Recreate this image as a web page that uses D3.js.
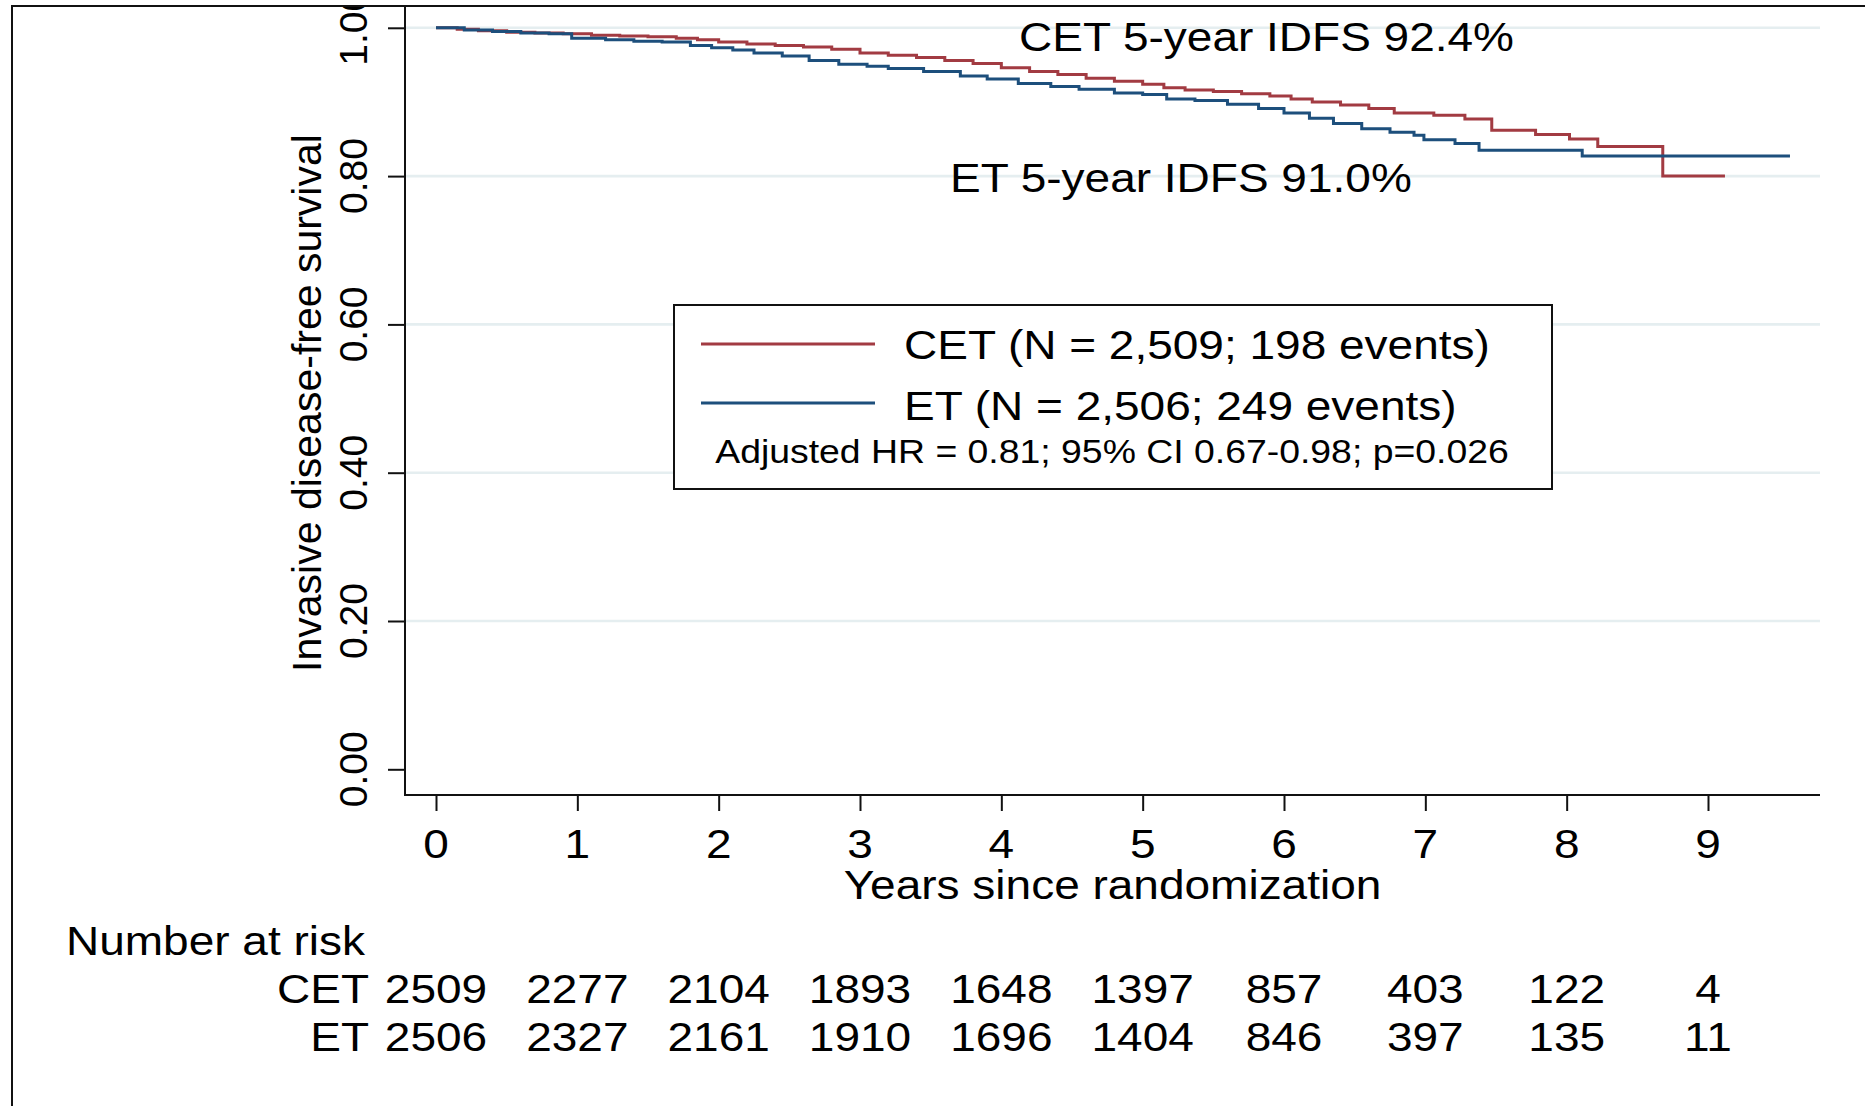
<!DOCTYPE html>
<html>
<head>
<meta charset="utf-8">
<script src="https://cdn.jsdelivr.net/npm/d3@7"></script>
<style>
html,body{margin:0;padding:0;background:#fff;}
svg{display:block;}
text{font-family:"Liberation Sans",Arial,Helvetica,sans-serif;fill:#000;}
</style>
</head>
<body>
<svg id="chart" width="1865" height="1106"></svg>
<script>
// ---- data ----
const xTicks = [0,1,2,3,4,5,6,7,8,9];
const yTicks = [0,0.2,0.4,0.6,0.8,1.0];
const yTickLabels = ["0.00","0.20","0.40","0.60","0.80","1.00"];
const groups = ["CET","ET"];
const cetTime = [0,0.15,0.3,0.5,0.7,0.9,1.1,1.3,1.5,1.7,1.85,2.0,2.2,2.4,2.6,2.8,3.0,3.2,3.4,3.6,3.8,4.0,4.2,4.4,4.6,4.8,5.0,5.15,5.3,5.5,5.7,5.9,6.05,6.2,6.4,6.6,6.78,7.06,7.28,7.47,7.78,8.02,8.22,8.68,9.12];
const cetSurv = [1.000,0.998,0.996,0.994,0.993,0.992,0.990,0.989,0.988,0.986,0.984,0.981,0.978,0.976,0.974,0.971,0.966,0.963,0.960,0.956,0.952,0.946,0.941,0.937,0.932,0.928,0.924,0.919,0.916,0.914,0.911,0.908,0.904,0.900,0.896,0.891,0.885,0.882,0.877,0.862,0.856,0.850,0.840,0.800,0.800];
const etTime = [0,0.2,0.4,0.6,0.8,0.96,1.2,1.4,1.6,1.8,1.95,2.1,2.25,2.45,2.64,2.85,3.05,3.2,3.45,3.71,3.9,4.12,4.35,4.55,4.8,5.0,5.17,5.37,5.6,5.82,6.0,6.18,6.35,6.55,6.75,6.92,6.99,7.21,7.38,8.11,9.58];
const etSurv = [1.000,0.997,0.995,0.993,0.992,0.986,0.984,0.982,0.981,0.976,0.973,0.970,0.966,0.962,0.956,0.951,0.948,0.945,0.941,0.935,0.931,0.925,0.921,0.917,0.912,0.910,0.904,0.902,0.897,0.891,0.885,0.878,0.871,0.864,0.859,0.855,0.849,0.844,0.835,0.827,0.827];
const cetRisk = [2509,2277,2104,1893,1648,1397,857,403,122,4];
const etRisk  = [2506,2327,2161,1910,1696,1404,846,397,135,11];
const legendLabels = ["CET (N = 2,509; 198 events)","ET (N = 2,506; 249 events)"];
const hrText = "Adjusted HR = 0.81; 95% CI 0.67-0.98; p=0.026";
const annCET = "CET 5-year IDFS 92.4%";
const annET = "ET 5-year IDFS 91.0%";
const xTitle = "Years since randomization";
const yTitle = "Invasive disease-free survival";

// ---- layout ----
const RED = "#a23b42", BLUE = "#1d4f7c";
const SX = 1.15; // horizontal stretch of the original image
const svg = d3.select("#chart");
const x = d3.scaleLinear().domain([0,9]).range([436,1708]);
const y = d3.scaleLinear().domain([0,1]).range([769.3,27.8]);
const axisX0 = 405, axisX1 = 1820, axisY = 795, plotTop = 6;

function htext(g, str, px, py, size, anchor){
  return g.append("text")
    .attr("transform", `translate(${px},${py}) scale(${SX},1)`)
    .attr("text-anchor", anchor||"start")
    .style("font-size", size+"px")
    .text(str);
}

// gridlines
svg.append("g").selectAll("line").data(yTicks.filter(v=>v>0)).join("line")
  .attr("x1", axisX0).attr("x2", axisX1)
  .attr("y1", d=>y(d)).attr("y2", d=>y(d))
  .attr("stroke", "#e5eef0").attr("stroke-width", 2.6);

// curves
const line = d3.line().curve(d3.curveStepAfter).x(d=>x(d[0])).y(d=>y(d[1]));
const cetData = cetTime.map((t,i)=>[t,cetSurv[i]]);
const etData = etTime.map((t,i)=>[t,etSurv[i]]);
svg.append("path").datum(cetData).attr("d", line).attr("fill","none")
  .attr("stroke", RED).attr("stroke-width", 3);
svg.append("path").datum(etData).attr("d", line).attr("fill","none")
  .attr("stroke", BLUE).attr("stroke-width", 3);

// x axis ticks through d3 axis
const gx = svg.append("g").attr("transform", `translate(0,${axisY})`)
  .call(d3.axisBottom(x).tickValues(xTicks).tickSize(16).tickFormat(""));
gx.select(".domain").remove();
gx.selectAll(".tick line").attr("stroke","#111").attr("stroke-width",2);
// y axis ticks
const gy = svg.append("g").attr("transform", `translate(${axisX0},0)`)
  .call(d3.axisLeft(y).tickValues(yTicks).tickSize(17).tickFormat(""));
gy.select(".domain").remove();
gy.selectAll(".tick line").attr("stroke","#111").attr("stroke-width",2);

// axis lines
svg.append("line").attr("x1",axisX0).attr("x2",axisX0).attr("y1",plotTop).attr("y2",axisY+1)
  .attr("stroke","#111").attr("stroke-width",2);
svg.append("line").attr("x1",axisX0-1).attr("x2",axisX1).attr("y1",axisY).attr("y2",axisY)
  .attr("stroke","#111").attr("stroke-width",2);

// x tick labels
xTicks.forEach(t=>htext(svg, String(t), x(t), 858, 40, "middle"));
// y tick labels (rotated)
yTicks.forEach((v,i)=>{
  svg.append("text")
    .attr("transform", `translate(367,${y(v)}) rotate(-90)`)
    .attr("text-anchor","middle").style("font-size","39px")
    .text(yTickLabels[i]);
});
// axis titles
htext(svg, xTitle, (axisX0+axisX1)/2, 899, 40, "middle");
svg.append("text").attr("transform","translate(321,403) rotate(-90)")
  .attr("text-anchor","middle").style("font-size","41px").text(yTitle);

// annotations
htext(svg, annCET, 1019, 51, 40, "start");
htext(svg, annET, 950, 192, 40, "start");

// legend
const lg = svg.append("g");
lg.append("rect").attr("x",674).attr("y",305).attr("width",878).attr("height",184)
  .attr("fill","#fff").attr("stroke","#111").attr("stroke-width",2);
[RED,BLUE].forEach((c,i)=>{
  const ly = i===0 ? 344 : 403;
  lg.append("line").attr("x1",701).attr("x2",875).attr("y1",ly).attr("y2",ly)
    .attr("stroke",c).attr("stroke-width",3);
  htext(lg, legendLabels[i], 904, i===0 ? 359 : 420, 40, "start");
});
htext(lg, hrText, 1112, 463, 32.5, "middle");

// number at risk table
htext(svg, "Number at risk", 66, 955, 40, "start");
const rows = [cetRisk, etRisk];
const rowY = [1003, 1051];
rows.forEach((r,i)=>{
  htext(svg, groups[i], 369, rowY[i], 40, "end");
  r.forEach((n,j)=>htext(svg, String(n), x(xTicks[j]), rowY[i], 40, "middle"));
});

// crop edge of the figure (white strip + frame)
svg.append("rect").attr("x",0).attr("y",0).attr("width",1865).attr("height",5).attr("fill","#fff");
svg.append("line").attr("x1",11).attr("x2",1865).attr("y1",6).attr("y2",6)
  .attr("stroke","#111").attr("stroke-width",2);
svg.append("line").attr("x1",12).attr("x2",12).attr("y1",5).attr("y2",1106)
  .attr("stroke","#111").attr("stroke-width",2);
</script>
</body>
</html>
